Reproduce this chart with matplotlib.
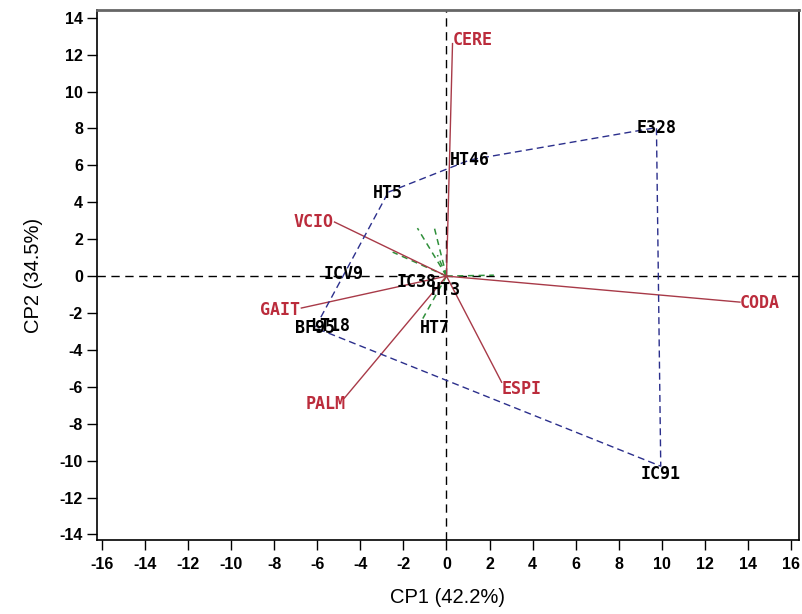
import matplotlib
matplotlib.use("Agg")
import matplotlib.pyplot as plt

# Observations (scores)
obs_names = ["HT5", "HT46", "E328", "IC91", "BF95", "LT18", "ICV9", "IC38", "HT3", "HT7"]
obs_x = [-2.7, 1.1, 9.75, 9.95, -6.1, -5.4, -4.8, -1.4, -0.05, -0.55]
obs_y = [4.55, 6.3, 8.05, -10.3, -2.8, -2.65, 0.16, -0.27, -0.7, -2.8]

# Convex hull order
hull = ["HT5", "HT46", "E328", "IC91", "BF95", "HT5"]

# Variable vectors (loadings, scaled)
var_names = ["CERE", "CODA", "VCIO", "GAIT", "PALM", "ESPI"]
var_x = [0.28, 13.63, -5.2, -6.74, -4.74, 2.56]
var_y = [12.6, -1.41, 2.93, -1.73, -6.61, -5.75]

# Minor (green) vectors
minor_x = [-2.5, -1.35, -0.56, -0.42, 2.2, -1.1]
minor_y = [1.3, 2.6, 2.6, 1.14, 0.05, -2.3]

xticks = list(range(-16, 17, 2))
yticks = list(range(-14, 15, 2))

fig = plt.figure(figsize=(8.03, 6.14), dpi=100)
ax = fig.add_axes([97 / 803, 1 - 540 / 614, (799 - 97) / 803, (540 - 10) / 614])
ax.set_xlim(-16.23, 16.37)
ax.set_ylim(-14.3, 14.42)

ax.axhline(0, color="black", lw=1, ls=(0, (6, 4)), zorder=1)
ax.axvline(0, color="black", lw=1, ls=(0, (6, 4)), zorder=1)

red = "#bb2c3c"
green = "#2f8f3a"
blue = "#2b2f8c"

for mx, my in zip(minor_x, minor_y):
    ax.plot([0, mx], [0, my], color=green, lw=1.1, ls=(0, (4, 3)), zorder=2)

for name, vx, vy in zip(var_names, var_x, var_y):
    ax.plot([0, vx], [0, vy], color="#a83a48", lw=1, zorder=2)

pos = {n: (x, y) for n, x, y in zip(obs_names, obs_x, obs_y)}
hx = [pos[n][0] for n in hull]
hy = [pos[n][1] for n in hull]
ax.plot(hx, hy, color=blue, lw=1, ls=(0, (5, 3)), zorder=2)

mono = ["DejaVu Sans Mono"]
label_dy = {"IC91": -0.45}
for n, x, y in zip(obs_names, obs_x, obs_y):
    ax.text(x, y + label_dy.get(n, -0.03), n, ha="center", va="center", fontsize=12,
            fontweight="bold", family=mono, color="black", zorder=4)

align = {"CERE": ("left", "center", 0.0, 0.2),
         "CODA": ("left", "center", 0.0, -0.05),
         "VCIO": ("right", "center", -0.05, 0.0),
         "GAIT": ("right", "center", -0.05, -0.1),
         "PALM": ("right", "center", 0.05, -0.3),
         "ESPI": ("left", "center", 0.0, -0.35)}
for n, x, y in zip(var_names, var_x, var_y):
    ha, va, dx, dy = align[n]
    ax.text(x + dx, y + dy, n, ha=ha, va=va, fontsize=12, fontweight="bold",
            family=mono, color=red, zorder=4)

ax.set_xticks(xticks)
ax.set_yticks(yticks)
ax.set_xticklabels([str(t) for t in xticks], fontweight="bold", fontsize=11.5,
                   family=["Liberation Sans"])
ax.set_yticklabels([str(t) for t in yticks], fontweight="bold", fontsize=11.5,
                   family=["Liberation Sans"])
ax.tick_params(axis="x", direction="out", length=7, width=1, pad=5)
ax.tick_params(axis="y", direction="out", length=7, width=1, pad=3)

for s in ["left", "bottom", "right"]:
    ax.spines[s].set_color("black")
    ax.spines[s].set_linewidth(1.2)
ax.spines["top"].set_color("#666666")
ax.spines["top"].set_linewidth(2)

ax.set_xlabel("CP1 (42.2%)", fontsize=14.5, family=["Liberation Sans"], labelpad=12)
ax.set_ylabel("CP2 (34.5%)", fontsize=14.5, family=["Liberation Sans"], labelpad=12)

fig.savefig("out.png", dpi=100)
